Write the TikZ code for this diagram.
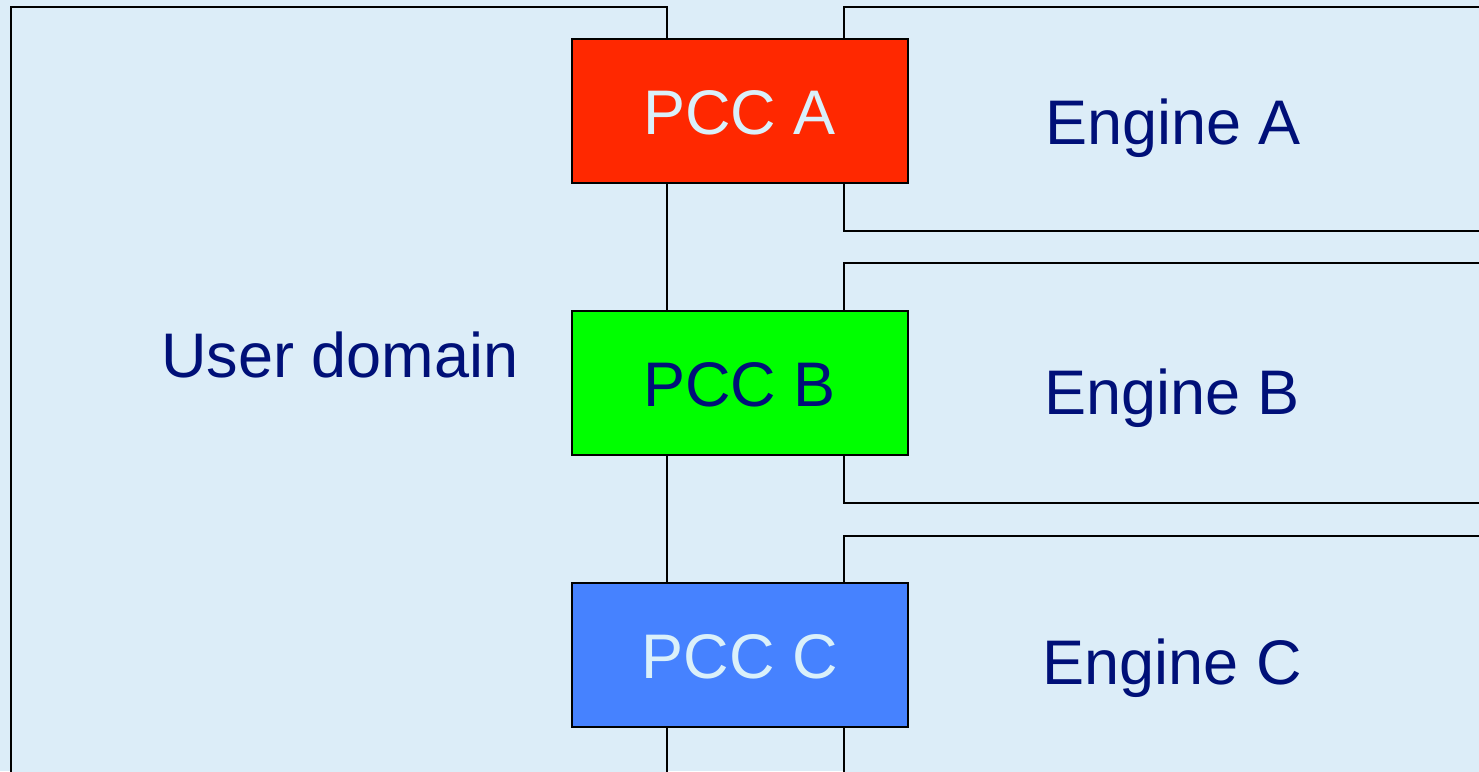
\documentclass[tikz,border=0pt]{standalone}
\usepackage{fontspec}
\setmainfont{Liberation Sans}
\definecolor{bgblue}{RGB}{220,237,248}
\definecolor{navy}{RGB}{0,16,120}
\definecolor{lighttxt}{RGB}{218,240,250}
\definecolor{pccred}{RGB}{255,40,0}
\definecolor{pccgreen}{RGB}{0,255,0}
\definecolor{pccblue}{RGB}{70,130,255}
\begin{document}
\begin{tikzpicture}[x=1pt,y=-1pt,
  frame/.style={draw=black,line width=2pt,fill=bgblue},
  pccbox/.style={draw=black,line width=2pt,minimum width=336pt,minimum height=144pt,inner sep=0pt,
    font=\fontsize{63}{70}\selectfont,text depth=0pt},
  lbl/.style={anchor=base,text=navy,font=\fontsize{63}{70}\selectfont,inner sep=0pt}]
\useasboundingbox (0,0) rectangle (1479,771);
\clip (0,0) rectangle (1479,771);
\fill[bgblue] (0,0) rectangle (1479,771);
% domains
\draw[frame] (11.3,7.3) rectangle (667.3,800);
\draw[frame] (843.7,7.3) rectangle (1500,231);
\draw[frame] (843.7,263.3) rectangle (1500,503.3);
\draw[frame] (843.7,535.7) rectangle (1500,800);
% labels
\node[lbl] (ud) at (340,377.3) {User domain};
\node[lbl] (ea) at (1173,144) {Engine A};
\node[lbl] (eb) at (1172,414) {Engine B};
\node[lbl] (ec) at (1172,684) {Engine C};
% PCC boxes
\node[pccbox,fill=pccred,text=lighttxt] (pa) at (739.6,111.3) {\raisebox{-2pt}{PCC A}};
\node[pccbox,fill=pccgreen,text=navy] (pb) at (739.6,383.3) {\raisebox{-2pt}{PCC B}};
\node[pccbox,fill=pccblue,text=lighttxt] (pc) at (739.6,655.3) {\raisebox{-2pt}{PCC C}};
\end{tikzpicture}
\end{document}
